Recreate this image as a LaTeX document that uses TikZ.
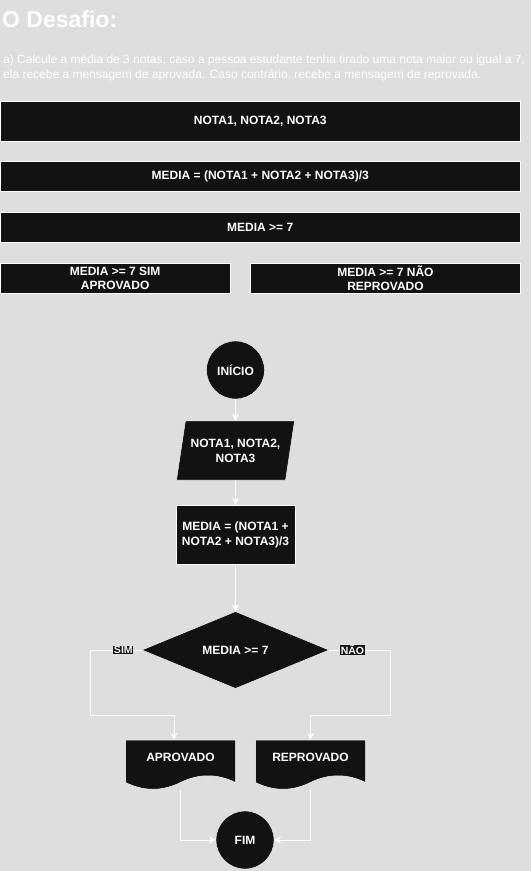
\documentclass[tikz,border=0pt]{standalone}
\usepackage{fontspec}
\setmainfont{Liberation Sans}
\usetikzlibrary{shapes.geometric,arrows.meta}
\definecolor{fundo}{HTML}{DEDEDE}
\definecolor{caixa}{HTML}{121212}
\tikzset{
  faixa/.style={draw=white, line width=0.5pt, fill=caixa, text=white, inner sep=0pt, align=center,
    font=\bfseries\fontsize{12}{13.6}\selectfont},
  bloco/.style={draw=white, line width=0.4pt, fill=caixa, text=white, inner sep=0pt, align=center,
    font=\bfseries\fontsize{12}{15}\selectfont},
  terminal/.style={bloco, circle, minimum size=58pt},
  leitura/.style={bloco, trapezium, trapezium left angle=71.3, trapezium right angle=108.7,
    trapezium stretches=true, minimum width=118pt, minimum height=59pt},
  processo/.style={bloco, rectangle, minimum width=119pt, minimum height=59pt},
  decisao/.style={bloco, diamond, minimum width=187pt, minimum height=77pt},
  documento/.style={text=white, inner sep=0pt, minimum width=110pt, minimum height=50pt,
    font=\bfseries\fontsize{12}{15}\selectfont, text height=8.6pt, text depth=16pt},
  fluxo/.style={draw=white, line width=0.75pt, -{Stealth[length=7pt,width=7pt,inset=2.5pt]}},
  rotulo/.style={fill=caixa, text=white, inner sep=0.6pt, font=\bfseries\fontsize{10.5}{11}\selectfont}
}
% folha com borda ondulada, #1 = canto superior esquerdo
\newcommand{\folha}[1]{%
  \filldraw[draw=white, line width=0.5pt, fill=caixa, shift={#1}]
    (0,0) -- (110,0) -- (110,42.5) .. controls (91.7,33.5) and (73.3,33.5) .. (55,42.5)
    .. controls (36.7,51.5) and (18.3,51.5) .. (0,42.5) -- cycle;}
\begin{document}
\begin{tikzpicture}[x=1pt,y=-1pt]
  %fundo e enunciado
  \fill[fundo] (0,0) rectangle (531,871);
  \useasboundingbox (0,0) rectangle (531,871);
  \node[anchor=base west, inner sep=0pt, text=white, font=\bfseries\fontsize{23}{27}\selectfont] (titulo) at (2,27.5) {O Desafio:};
  \node[anchor=base west, inner sep=0pt, text=white, align=left, font=\fontsize{12}{15.3}\selectfont] (enunciado) at (3,78.3)
    {a) Calcule a média de 3 notas, caso a pessoa estudante tenha tirado uma nota maior ou igual a 7,\\ela recebe a mensagem de aprovada. Caso contrário, recebe a mensagem de reprovada.};

  %faixas do algoritmo
  \node[faixa, minimum width=520.5pt, minimum height=40pt] (entrada) at (260.25,120.75) {NOTA1, NOTA2, NOTA3};
  \node[faixa, minimum width=520.5pt, minimum height=30pt] (calculo) at (260.25,176.6) {MEDIA = (NOTA1 + NOTA2 + NOTA3)/3};
  \node[faixa, minimum width=520.5pt, minimum height=30pt] (condicao) at (260.25,227.4) {MEDIA >= 7};
  \node[faixa, minimum width=230.3pt, minimum height=30pt] (sim) at (115.15,278.2) {MEDIA >= 7 SIM\\APROVADO};
  \node[faixa, minimum width=270pt, minimum height=30pt] (nao) at (385.5,278.2) {MEDIA >= 7 NÃO\\REPROVADO};

  %fluxograma
  \folha{(125.5,740)}
  \folha{(255.5,740)}
  \node[terminal] (inicio) at (235.5,370) {INÍCIO};
  \node[leitura] (notas) at (235.5,450.5) {NOTA1, NOTA2,\\NOTA3};
  \node[processo] (media) at (235.5,534.5) {MEDIA = (NOTA1 +\\NOTA2 + NOTA3)/3};
  \node[decisao] (teste) at (235.5,650) {MEDIA >= 7};
  \node[documento] (aprov) at (180.5,765) {APROVADO};
  \node[documento] (reprov) at (310.5,765) {REPROVADO};
  \node[terminal] (fim) at (245,840) {FIM};
  \coordinate (desvio sim) at (90.5,715);
  \coordinate (desvio nao) at (390.5,715);

  \draw[fluxo] (inicio) -- (notas);
  \draw[fluxo] (notas) -- (media);
  \draw[fluxo] (media) -- (teste);
  \draw[fluxo] (teste.west) -- node[rotulo, pos=0.36] {SIM} (teste.west -| desvio sim) -- (desvio sim) -| ([xshift=-6.5pt]aprov.north);
  \draw[fluxo] (teste.east) -- node[rotulo, pos=0.38] {NÃO} (teste.east -| desvio nao) -- (desvio nao) -| (reprov.north);
  \draw[fluxo] (aprov.south) |- (fim.west);
  \draw[fluxo] (reprov.south) |- (fim.east);
\end{tikzpicture}
\end{document}
